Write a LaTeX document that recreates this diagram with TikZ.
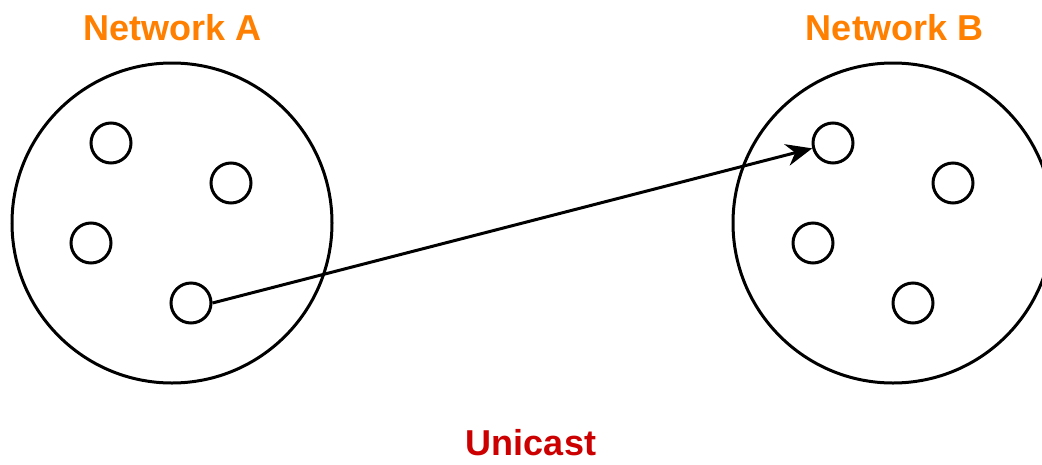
\documentclass[tikz,border=0pt]{standalone}
\usepackage{fontspec}
\setmainfont{Liberation Sans}
\usepackage{xcolor}
\usetikzlibrary{arrows.meta,positioning}
\definecolor{netorange}{HTML}{FF8000}
\definecolor{castred}{HTML}{CC0000}

\begin{document}
\begin{tikzpicture}[
    x=1pt, y=-1pt,
    network/.style={circle, draw=black, line width=3pt, minimum size=320pt, inner sep=0pt},
    host/.style={circle, draw=black, line width=3pt, minimum size=40pt, inner sep=0pt},
    netlabel/.style={font=\fontsize{36}{40}\selectfont\bfseries, text=netorange},
    arrow/.style={-{Stealth[length=26pt,width=22pt]}, line width=3pt}
]
\useasboundingbox (0,0) rectangle (1042,464);

% Networks
\node[network] (neta) at (172,223) {};
\node[network] (netb) at (893,223) {};
\node[netlabel] (labela) at (173,28) {Network A};
\node[netlabel] (labelb) at (895,28) {Network B};

% Hosts in network A
\node[host] (a1) at (111,143) {};
\node[host] (a2) at (231,183) {};
\node[host] (a3) at (91,243) {};
\node[host] (a4) at (191,303) {};

% Hosts in network B
\node[host] (b1) at (833,143) {};
\node[host] (b2) at (953,183) {};
\node[host] (b3) at (813,243) {};
\node[host] (b4) at (913,303) {};

% Unicast connection
\draw[arrow] (a4.east) -- (b1);

\node[font=\fontsize{36}{40}\selectfont\bfseries, text=castred, inner sep=2pt] (title) at (531,443) {Unicast};

\end{tikzpicture}
\end{document}
